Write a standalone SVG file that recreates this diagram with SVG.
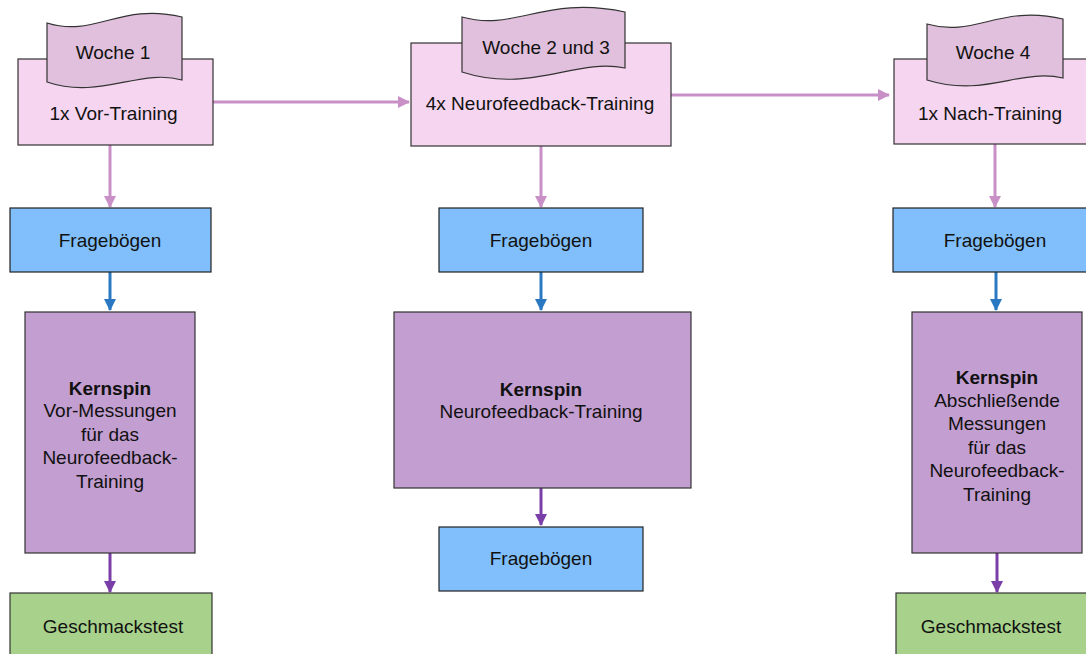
<svg xmlns="http://www.w3.org/2000/svg" width="1086" height="654" viewBox="0 0 1086 654">
<style>
text{font-family:"Liberation Sans",Arial,sans-serif;font-size:19px;fill:#111;text-anchor:middle}
.b{font-weight:bold}
.pk{fill:#f5d5ef;stroke:#333;stroke-width:1.2}
.bn{fill:#e0c0dc;stroke:#333;stroke-width:1.2}
.bl{fill:#80bffb;stroke:#222;stroke-width:1.2}
.pu{fill:#c39ed0;stroke:#333;stroke-width:1.2}
.gr{fill:#a8d18c;stroke:#333;stroke-width:1.2}
.cp{stroke:#c98fc7;stroke-width:3;fill:none}
.cb{stroke:#2a78c2;stroke-width:3;fill:none}
.cv{stroke:#7a3ea8;stroke-width:3;fill:none}
</style>
<defs>
<marker id="ap" markerUnits="userSpaceOnUse" markerWidth="14" markerHeight="14" refX="11" refY="6" orient="auto"><path d="M0,0 L12,6 L0,12 Z" fill="#c98fc7"/></marker>
<marker id="ab" markerUnits="userSpaceOnUse" markerWidth="14" markerHeight="14" refX="11" refY="6" orient="auto"><path d="M0,0 L12,6 L0,12 Z" fill="#2a78c2"/></marker>
<marker id="av" markerUnits="userSpaceOnUse" markerWidth="14" markerHeight="14" refX="11" refY="6" orient="auto"><path d="M0,0 L12,6 L0,12 Z" fill="#7a3ea8"/></marker>
</defs>
<rect width="1086" height="654" fill="#fff"/>
<g id="connectors">
<line class="cp" x1="213" y1="102" x2="409" y2="102" marker-end="url(#ap)"/>
<line class="cp" x1="671" y1="95" x2="889" y2="95" marker-end="url(#ap)"/>
<line class="cp" x1="110" y1="145" x2="110" y2="207" marker-end="url(#ap)"/>
<line class="cp" x1="541" y1="146" x2="541" y2="207" marker-end="url(#ap)"/>
<line class="cp" x1="995" y1="144" x2="995" y2="207" marker-end="url(#ap)"/>
<line class="cb" x1="110" y1="272" x2="110" y2="310" marker-end="url(#ab)"/>
<line class="cb" x1="541" y1="272" x2="541" y2="310" marker-end="url(#ab)"/>
<line class="cb" x1="996" y1="272" x2="996" y2="310" marker-end="url(#ab)"/>
<line class="cv" x1="110" y1="553" x2="110" y2="592" marker-end="url(#av)"/>
<line class="cv" x1="541" y1="488" x2="541" y2="525" marker-end="url(#av)"/>
<line class="cv" x1="997" y1="553" x2="997" y2="592" marker-end="url(#av)"/>
</g>
<g id="n-vor">
<rect class="pk" x="18" y="59" width="195" height="86"/>
<path class="bn" d="M47,23 C95,38 120,2 182,17 L182,80 C140,68 100,100 47,82 Z"/>
<text x="113" y="58.5">Woche 1</text>
<text x="113.5" y="119.5">1x Vor-Training</text>
</g>
<g id="n-nf">
<rect class="pk" x="411" y="43" width="260" height="103"/>
<path class="bn" d="M462,17 C515,32 545,-5 625,12 L625,68 C575,58 530,94 462,72 Z"/>
<text x="546" y="53.5">Woche 2 und 3</text>
<text x="540" y="109.5">4x Neurofeedback-Training</text>
</g>
<g id="n-nach">
<rect class="pk" x="894" y="59" width="200" height="85"/>
<path class="bn" d="M927,24 C975,38 1000,4 1063,19 L1063,78 C1020,68 985,98 927,80 Z"/>
<text x="993" y="58.5">Woche 4</text>
<text x="990" y="119.5">1x Nach-Training</text>
</g>
<g id="n-frage1">
<rect class="bl" x="10" y="208" width="201" height="64"/>
<text x="110" y="246.5">Fragebögen</text>
</g>
<g id="n-frage2">
<rect class="bl" x="439" y="208" width="204" height="64"/>
<text x="541" y="246.5">Fragebögen</text>
</g>
<g id="n-frage3">
<rect class="bl" x="893" y="208" width="200" height="64"/>
<text x="995" y="246.5">Fragebögen</text>
</g>
<g id="n-kern1">
<rect class="pu" x="25" y="312" width="170" height="241"/>
<text x="110" y="394.5" class="b">Kernspin</text>
<text x="110" y="417">Vor-Messungen</text>
<text x="110" y="440.5">für das</text>
<text x="110" y="464">Neurofeedback-</text>
<text x="110" y="487.5">Training</text>
</g>
<g id="n-kern2">
<rect class="pu" x="394" y="312" width="297" height="176"/>
<text x="541" y="395.5" class="b">Kernspin</text>
<text x="541" y="417.5">Neurofeedback-Training</text>
</g>
<g id="n-kern3">
<rect class="pu" x="912" y="312" width="170" height="241"/>
<text x="997" y="383.5" class="b">Kernspin</text>
<text x="997" y="406.5">Abschließende</text>
<text x="997" y="430">Messungen</text>
<text x="997" y="453.5">für das</text>
<text x="997" y="477">Neurofeedback-</text>
<text x="997" y="500.5">Training</text>
</g>
<g id="n-frage4">
<rect class="bl" x="439" y="527" width="204" height="64"/>
<text x="541" y="564.5">Fragebögen</text>
</g>
<g id="n-gesch1">
<rect class="gr" x="10" y="593" width="202" height="70"/>
<text x="113" y="632.5">Geschmackstest</text>
</g>
<g id="n-gesch2">
<rect class="gr" x="896" y="593" width="200" height="70"/>
<text x="991" y="632.5">Geschmackstest</text>
</g>
</svg>
